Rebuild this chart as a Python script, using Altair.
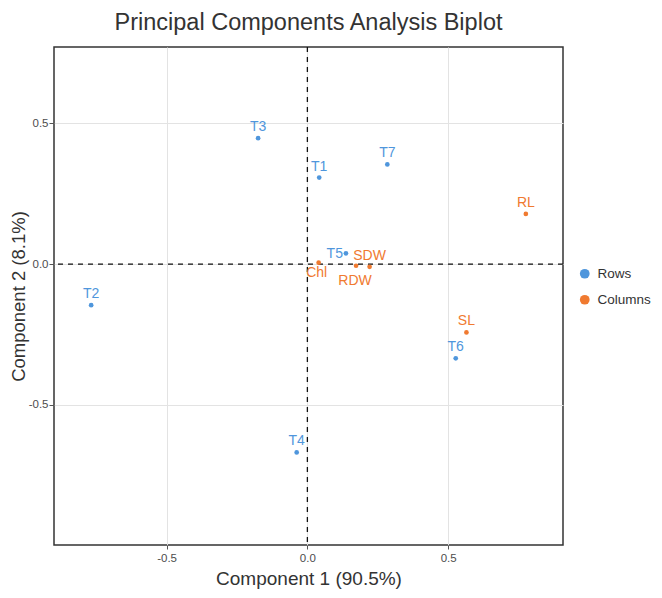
import altair as alt
import pandas as pd

# ---- data ----
names = ["T1", "T2", "T3", "T4", "T5", "T6", "T7", "Chl", "RDW", "SDW", "RL", "SL"]
comp1 = [0.042, -0.768, -0.175, -0.038, 0.137, 0.527, 0.284, 0.040, 0.173, 0.221, 0.776, 0.565]
comp2 = [0.307, -0.146, 0.447, -0.669, 0.038, -0.335, 0.354, 0.005, -0.006, -0.010, 0.178, -0.243]
kind = ["Rows"] * 7 + ["Columns"] * 5
groups = ["Rows", "Columns"]
colors = ["#4f96dc", "#f07a30"]
x_ticks = [-0.5, 0.0, 0.5]
y_ticks = [-0.5, 0.0, 0.5]

df = pd.DataFrame({"name": names, "c1": comp1, "c2": comp2, "kind": kind})

FONT = "Liberation Sans"
xdom = [-0.90, 0.908]
ydom = [-0.998, 0.771]

xs = alt.Scale(domain=xdom, nice=False, zero=False)
ys = alt.Scale(domain=ydom, nice=False, zero=False)
col = alt.Scale(domain=groups, range=colors)

LABEL_EXPR = "datum.value < 0 ? '-' + format(-datum.value, '.1f') : format(datum.value, '.1f')"

base = alt.Chart(df)

points = base.mark_circle(size=22, opacity=1).encode(
    x=alt.X("c1:Q", scale=xs,
            axis=alt.Axis(values=x_ticks, labelExpr=LABEL_EXPR, title="Component 1 (90.5%)",
                          grid=True, gridColor="#e3e3e3", gridWidth=1,
                          domain=False, tickSize=4, tickColor="#555555",
                          labelColor="#4d4d4d", labelFontSize=11.5, labelFont=FONT,
                          labelPadding=3,
                          titleFont=FONT, titleFontSize=19, titleFontWeight="normal",
                          titleColor="#333333", titlePadding=6)),
    y=alt.Y("c2:Q", scale=ys,
            axis=alt.Axis(values=y_ticks, labelExpr=LABEL_EXPR, title="Component 2 (8.1%)",
                          grid=True, gridColor="#e3e3e3", gridWidth=1,
                          domain=False, tickSize=5, tickColor="#555555",
                          labelColor="#4d4d4d", labelFontSize=11.5, labelFont=FONT,
                          labelPadding=1,
                          titleFont=FONT, titleFontSize=18.5, titleFontWeight="normal",
                          titleColor="#333333", titlePadding=0)),
    color=alt.Color("kind:N", scale=col,
                    legend=alt.Legend(title=None, orient="none", legendX=524, legendY=220,
                                      symbolType="circle", symbolSize=95,
                                      labelFont=FONT, labelFontSize=13.5, labelColor="#333333",
                                      labelOffset=6,
                                      rowPadding=11, symbolStrokeWidth=0)),
)

below = ["Chl", "RDW"]
left = ["T5"]

txt_kw = dict(font=FONT, fontSize=14, align="center", baseline="middle")
enc = dict(x=alt.X("c1:Q", scale=xs), y=alt.Y("c2:Q", scale=ys),
           text="name:N", color=alt.Color("kind:N", scale=col, legend=None))

labels_above = base.transform_filter(
    ~alt.FieldOneOfPredicate(field="name", oneOf=below + left)
).mark_text(dy=-11, **txt_kw).encode(**enc)

labels_chl = base.transform_filter(
    alt.FieldEqualPredicate(field="name", equal="Chl")
).mark_text(dy=10, dx=-2, **txt_kw).encode(**enc)

labels_rdw = base.transform_filter(
    alt.FieldEqualPredicate(field="name", equal="RDW")
).mark_text(dy=15, dx=-1, **txt_kw).encode(**enc)

labels_left = base.transform_filter(
    alt.FieldOneOfPredicate(field="name", oneOf=left)
).mark_text(dx=-3, dy=1, font=FONT, fontSize=14, align="right", baseline="middle").encode(**enc)

zero_df = pd.DataFrame({"v": [0.0]})
vline = alt.Chart(zero_df).mark_rule(color="#111111", strokeDash=[5, 5], strokeWidth=1.3).encode(
    x=alt.X("v:Q", scale=xs))
hline = alt.Chart(zero_df).mark_rule(color="#111111", strokeDash=[5, 5], strokeWidth=1.3).encode(
    y=alt.Y("v:Q", scale=ys))

chart = alt.layer(vline, hline, points, labels_above, labels_chl, labels_rdw, labels_left).properties(
    width=509, height=498,
    autosize=alt.AutoSizeParams(type="none"),
    padding={"left": 46, "top": 39, "right": 91, "bottom": 48},
    background="white",
    title=alt.TitleParams("Principal Components Analysis Biplot", font=FONT, fontSize=23.5,
                          fontWeight="normal", color="#333333", anchor="middle", offset=12),
).configure_view(stroke="#333333", strokeWidth=1.5)

chart.save("out.html", embed_options={"renderer": "svg", "actions": False})
